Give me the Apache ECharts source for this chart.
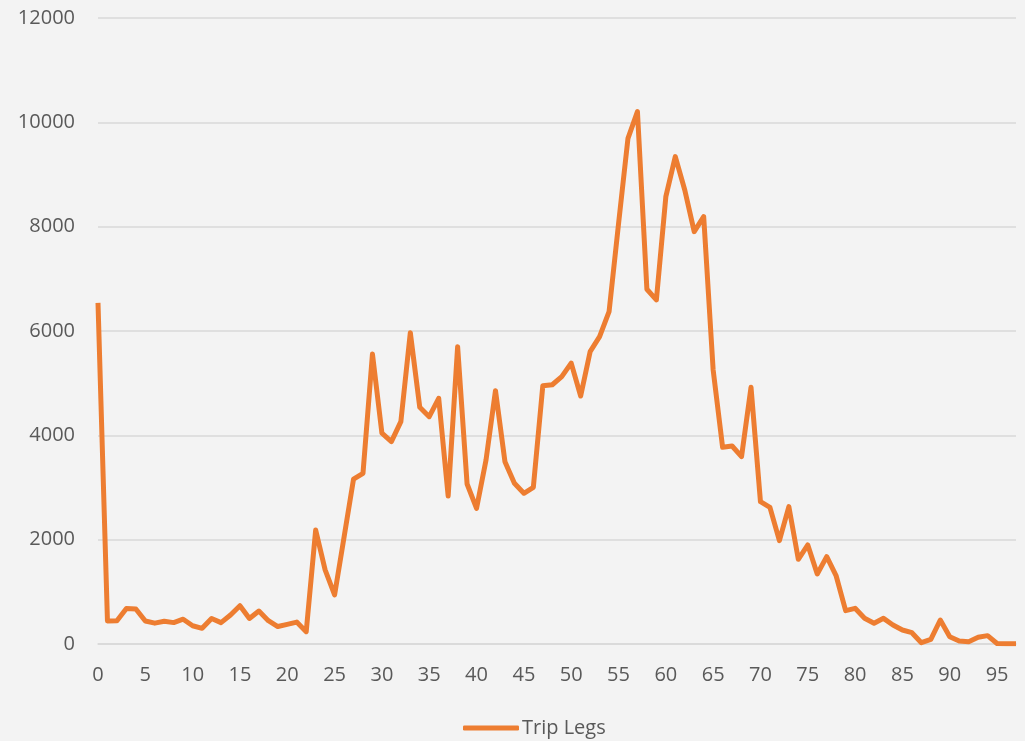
<!DOCTYPE html>
<html>
<head>
<meta charset="utf-8">
<script src="https://cdn.jsdelivr.net/npm/echarts@6/dist/echarts.min.js"></script>
<style>
html,body{margin:0;padding:0;background:#f3f3f3;}
#c{width:1025px;height:741px;}
</style>
</head>
<body>
<div id="c"></div>
<script>
const categories = Array.from({length: 98}, (_, i) => String(i));
const seriesName = 'Trip Legs';
const tripLegs = [
  6540, 440, 445, 680, 670, 440, 400, 435, 410, 475,
  350, 300, 490, 410, 555, 735, 490, 632, 447, 335,
  377, 420, 236, 2185, 1420, 940, 2050, 3160, 3272, 5560,
  4040, 3880, 4262, 5968, 4537, 4357, 4710, 2837, 5700, 3067,
  2601, 3527, 4856, 3495, 3080, 2889, 3004, 4950, 4970, 5125,
  5385, 4754, 5604, 5891, 6370, 8050, 9694, 10205, 6800, 6595,
  8575, 9342, 8703, 7904, 8192, 5253, 3770, 3796, 3591, 4921,
  2728, 2620, 1981, 2633, 1623, 1898, 1342, 1674, 1304, 639,
  684, 492, 397, 492, 364, 268, 217, 25, 90, 460,
  140, 58, 45, 128, 160, 10, 5, 5
];
const yTicks = [0, 2000, 4000, 6000, 8000, 10000, 12000];

const chart = echarts.init(document.getElementById('c'), null, {renderer: 'canvas'});
const textColor = '#595959';
const font = 'Open Sans';
chart.setOption({
  backgroundColor: '#f3f3f3',
  animation: false,
  grid: {left: 98, right: 9, top: 18, bottom: 97, containLabel: false},
  xAxis: {
    type: 'category',
    data: categories,
    boundaryGap: false,
    axisLine: {show: true, lineStyle: {color: '#d9d9d9', width: 1.5}},
    axisTick: {show: false},
    axisLabel: {interval: 4, color: textColor, fontFamily: font, fontSize: 20, margin: 21}
  },
  yAxis: {
    type: 'value',
    min: yTicks[0],
    max: yTicks[yTicks.length - 1],
    interval: 2000,
    axisLine: {show: false},
    axisTick: {show: false},
    splitLine: {lineStyle: {color: '#d9d9d9', width: 1.5}},
    axisLabel: {color: textColor, fontFamily: font, fontSize: 20, margin: 23, formatter: v => String(v)}
  },
  legend: {
    data: [seriesName],
    top: 713,
    left: 458,
    itemWidth: 56,
    itemHeight: 5,
    itemGap: 10,
    textStyle: {color: textColor, fontFamily: font, fontSize: 20, padding: [0, 0, 0, -2]},
    icon: 'roundRect'
  },
  series: [{
    name: seriesName,
    type: 'line',
    data: tripLegs,
    showSymbol: false,
    symbol: 'none',
    lineStyle: {color: '#ED7D31', width: 5, join: 'round'},
    itemStyle: {color: '#ED7D31'}
  }]
});
</script>
</body>
</html>
